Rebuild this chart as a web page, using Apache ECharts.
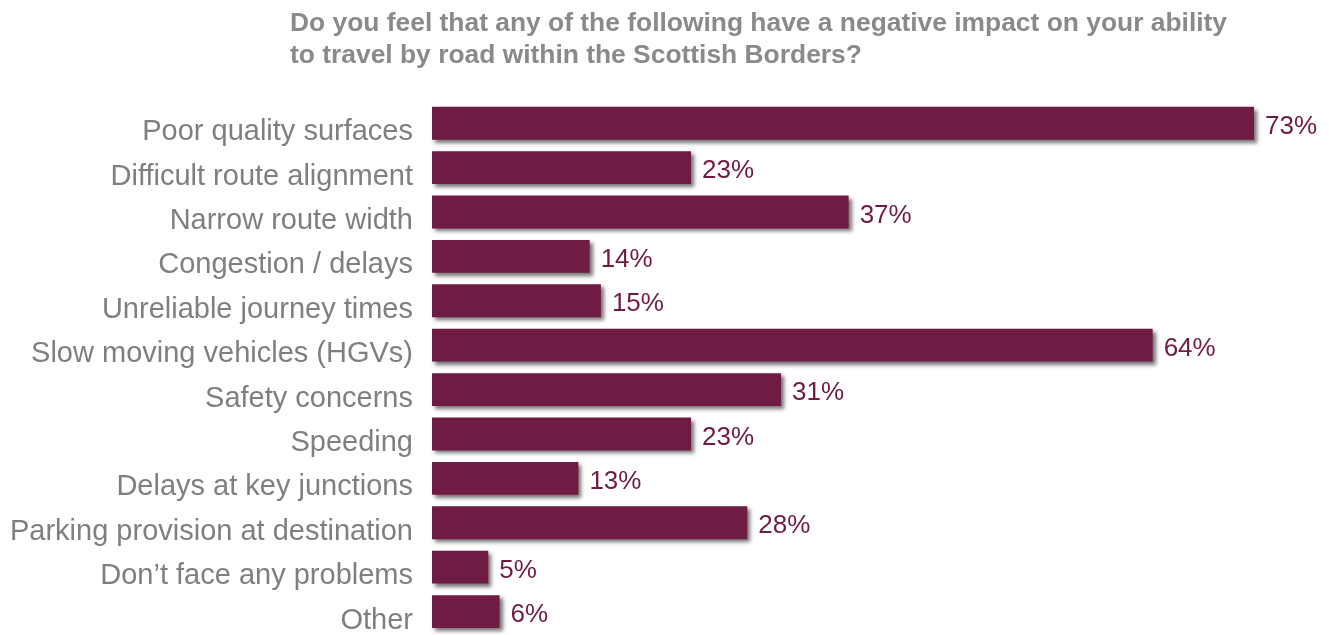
<!DOCTYPE html>
<html>
<head>
<meta charset="utf-8">
<script src="https://cdn.jsdelivr.net/npm/echarts@6/dist/echarts.min.js"></script>
<style>
html,body{margin:0;padding:0;background:#fff;}
#chart{width:1329px;height:635px;}
</style>
</head>
<body>
<div id="chart"></div>
<script>
var titleLines = [
  'Do you feel that any of the following have a negative impact on your ability',
  'to travel by road within the Scottish Borders?'
];
var categories = [
  'Poor quality surfaces',
  'Difficult route alignment',
  'Narrow route width',
  'Congestion / delays',
  'Unreliable journey times',
  'Slow moving vehicles (HGVs)',
  'Safety concerns',
  'Speeding',
  'Delays at key junctions',
  'Parking provision at destination',
  'Don\u2019t face any problems',
  'Other'
];
var values = [73, 23, 37, 14, 15, 64, 31, 23, 13, 28, 5, 6];

var FONT = 'Liberation Sans, Arial, sans-serif';
var chart = echarts.init(document.getElementById('chart'), null, {renderer: 'canvas'});
chart.setOption({
  animation: false,
  backgroundColor: '#ffffff',
  title: {
    text: titleLines.join('\n'),
    left: 285,
    top: 3,
    textStyle: {
      fontFamily: FONT,
      fontSize: 26.4,
      fontWeight: 'bold',
      color: '#8a8a8a',
      lineHeight: 32
    }
  },
  grid: {left: 432, width: 822, top: 101, height: 535, containLabel: false},
  xAxis: {
    type: 'value', min: 0, max: 73,
    show: false
  },
  yAxis: {
    type: 'category',
    data: categories,
    inverse: true,
    axisLine: {show: false},
    axisTick: {show: false},
    splitLine: {show: false},
    axisLabel: {
      margin: 19,
      align: 'right',
      fontFamily: FONT,
      fontSize: 29,
      color: '#7f7f7f',
      formatter: function (v) { return '{s| }\n{t|' + v + '}'; },
      rich: {
        s: {fontSize: 2, lineHeight: 18, fontFamily: FONT},
        t: {fontSize: 29, lineHeight: 30, fontFamily: FONT, color: '#7f7f7f', align: 'right'}
      }
    }
  },
  series: [{
    type: 'bar',
    data: values,
    barCategoryGap: '26%',
    itemStyle: {
      color: '#701b44',
      shadowColor: 'rgba(0,0,0,0.55)',
      shadowBlur: 4,
      shadowOffsetX: 3,
      shadowOffsetY: 3
    },
    label: {
      show: true,
      position: 'right',
      distance: 11,
      fontFamily: FONT,
      fontSize: 26,
      color: '#701b44',
      formatter: function (p) { return '{s| }\n{t|' + p.value + '%}'; },
      rich: {
        s: {fontSize: 2, lineHeight: 7, fontFamily: FONT},
        t: {fontSize: 26, lineHeight: 28, fontFamily: FONT, color: '#701b44'}
      }
    }
  }]
});
</script>
</body>
</html>
